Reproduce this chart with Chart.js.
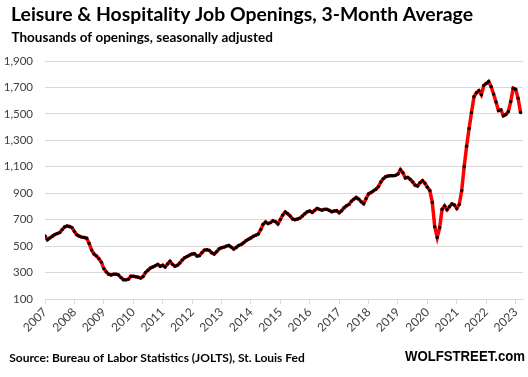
<!DOCTYPE html>
<html>
<head>
<meta charset="utf-8">
<script src="https://cdn.jsdelivr.net/npm/chart.js@4"></script>
<style>
  html, body { margin: 0; padding: 0; background: #fff; }
</style>
</head>
<body>
<canvas id="chart" width="528" height="377"></canvas>
<script>
const titleText = 'Leisure & Hospitality Job Openings, 3-Month Average';
const subtitleText = 'Thousands of openings, seasonally adjusted';
const sourceText = 'Source: Bureau of Labor Statistics (JOLTS), St. Louis Fed';
const brandText = 'WOLFSTREET.com';

// Monthly, Jan 2007 - Mar 2023, thousands
const startYear = 2007;
const y2007 = [577, 548, 562, 575, 588, 595, 602, 625, 645, 652, 648, 640];
const y2008 = [610, 585, 575, 568, 565, 560, 520, 470, 440, 425, 405, 378];
const y2009 = [330, 305, 287, 282, 288, 288, 282, 262, 246, 245, 250, 272];
const y2010 = [272, 268, 265, 258, 270, 300, 318, 335, 342, 352, 362, 348];
const y2011 = [355, 342, 365, 385, 362, 348, 355, 372, 395, 412, 422, 432];
const y2012 = [440, 442, 425, 428, 450, 470, 472, 468, 450, 440, 458, 478];
const y2013 = [488, 492, 500, 505, 492, 478, 490, 505, 512, 525, 541, 552];
const y2014 = [562, 575, 582, 592, 625, 665, 682, 670, 678, 692, 685, 668];
const y2015 = [700, 735, 758, 745, 728, 705, 700, 705, 712, 728, 745, 760];
const y2016 = [765, 755, 770, 785, 778, 772, 778, 778, 770, 760, 765, 768];
const y2017 = [752, 768, 790, 805, 815, 840, 855, 868, 855, 835, 820, 860];
const y2018 = [895, 905, 918, 930, 950, 985, 1010, 1025, 1030, 1033, 1033, 1035];
const y2019 = [1045, 1078, 1055, 1015, 1020, 1005, 985, 960, 955, 980, 995, 975];
const y2020 = [945, 920, 830, 647, 565, 640, 779, 804, 775, 798, 819, 811];
const y2021 = [785, 815, 920, 1100, 1255, 1390, 1510, 1630, 1660, 1676, 1645, 1715];
const y2022 = [1730, 1745, 1706, 1650, 1590, 1525, 1530, 1485, 1495, 1517, 1593, 1694];
const y2023 = [1686, 1618, 1510];

const openings = [].concat(y2007, y2008, y2009, y2010, y2011, y2012, y2013, y2014,
  y2015, y2016, y2017, y2018, y2019, y2020, y2021, y2022, y2023);

const yMin = 100;
const yMax = 1900;
const yStep = 200;

const points = openings.map((v, i) => ({ x: startYear + i / 12, y: v }));

const gridGrey = '#d9d9d9';
const tickGrey = '#404040';

// titles and footer drawn on the canvas
const textPlugin = {
  id: 'texts',
  afterDraw(chart) {
    const ctx = chart.ctx;
    ctx.save();
    ctx.fillStyle = '#000';
    ctx.textAlign = 'left';
    ctx.textBaseline = 'alphabetic';
    ctx.font = 'bold 19.5px Lato';
    ctx.fillText(titleText, 11, 21, 462);
    ctx.font = 'bold 13.5px Lato';
    ctx.fillText(subtitleText, 11.5, 41.7, 289);
    ctx.font = 'bold 12px Lato';
    ctx.fillText(sourceText, 9.3, 361.7, 297);
    ctx.font = 'bold 14.5px "Liberation Sans"';
    ctx.fillText(brandText, 405, 360.5, 120);
    ctx.restore();
  }
};

Chart.defaults.font.family = 'Lato';

new Chart(document.getElementById('chart'), {
  type: 'line',
  data: {
    datasets: [{
      data: points,
      borderColor: '#ff0000',
      borderWidth: 3.5,
      tension: 0,
      pointRadius: 1.7,
      pointHoverRadius: 1.7,
      pointBackgroundColor: '#000',
      pointBorderWidth: 0,
    }]
  },
  options: {
    responsive: false,
    animation: false,
    devicePixelRatio: 1,
    layout: {
      padding: { top: 61, right: 5, bottom: 0, left: 0 }
    },
    plugins: {
      legend: { display: false },
      tooltip: { enabled: false },
    },
    scales: {
      x: {
        type: 'linear',
        min: startYear,
        max: startYear + openings.length / 12,
        afterFit(scale) { scale.height = 78; },
        border: { display: true, color: gridGrey },
        grid: {
          drawOnChartArea: false,
          drawTicks: true,
          tickLength: 5,
          color: gridGrey,
        },
        ticks: {
          stepSize: 1,
          includeBounds: false,
          autoSkip: false,
          maxRotation: 45,
          minRotation: 45,
          padding: 1,
          color: tickGrey,
          font: { size: 12 },
          callback: (v) => String(v),
        }
      },
      y: {
        min: yMin,
        max: yMax,
        afterFit(scale) { scale.width = 45; },
        border: { display: false },
        grid: {
          color: gridGrey,
          drawTicks: false,
        },
        ticks: {
          stepSize: yStep,
          padding: 12,
          color: tickGrey,
          font: { size: 11.5 },
          callback: (v) => v.toLocaleString('en-US'),
        }
      }
    }
  },
  plugins: [textPlugin]
});
</script>
</body>
</html>
